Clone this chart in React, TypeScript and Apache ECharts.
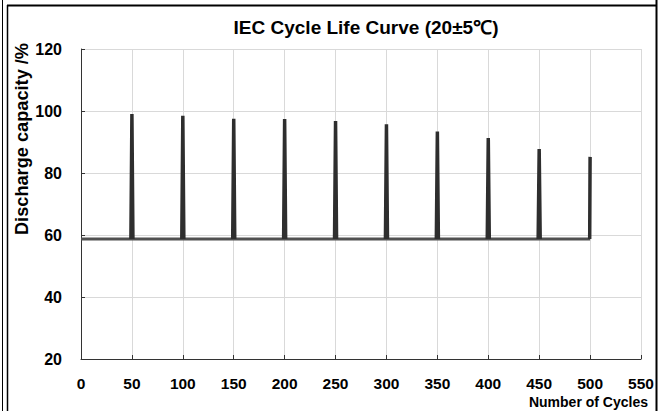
import React, { useEffect, useRef } from "react";
import * as echarts from "echarts";

const chartTitle = "IEC Cycle Life Curve (20±5℃)";
const xAxisName = "Number of Cycles";
const yAxisName = "Discharge capacity /%";

// full capacity check every 50 cycles
const spikeCycles = [50, 100, 150, 200, 250, 300, 350, 400, 450, 500];
const peakCapacity = [99.0, 98.5, 97.5, 97.4, 96.8, 95.7, 93.4, 91.3, 87.7, 85.2];
// regular cycling capacity (flat)
const baselineCapacity = 58.7;
const firstCycle = 0;
const lastCycle = 500;

const xTicks = { min: 0, max: 550, interval: 50 };
const yTicks = { min: 20, max: 120, interval: 20 };

const FONT = "'Liberation Sans', Arial, sans-serif";

export default function App() {
  const ref = useRef<HTMLDivElement>(null);

  useEffect(() => {
    if (!ref.current) return;
    const chart = echarts.init(ref.current, undefined, { renderer: "svg" });

    const baseline: [number, number][] = [
      [firstCycle, baselineCapacity],
      [lastCycle, baselineCapacity],
    ];
    const spikes: (number | string)[][] = [];
    spikeCycles.forEach((c, i) => {
      const last = i === spikeCycles.length - 1;
      spikes.push([c - (last ? 0.4 : 1), baselineCapacity]);
      spikes.push([c, peakCapacity[i]]);
      if (!last) spikes.push([c + 1, baselineCapacity]);
      spikes.push(["-", "-"]);
    });

    chart.setOption({
      animation: false,
      backgroundColor: "#ffffff",
      textStyle: { fontFamily: FONT },
      grid: { left: 81, top: 49, width: 560, height: 310, containLabel: false },
      xAxis: {
        type: "value",
        min: xTicks.min,
        max: xTicks.max,
        interval: xTicks.interval,
        axisLine: { show: true, lineStyle: { color: "#333", width: 1 } },
        axisTick: { show: true, inside: true, length: 4, lineStyle: { color: "#333" } },
        axisLabel: {
          color: "#000",
          fontWeight: "bold",
          fontSize: 15.5,
          fontFamily: FONT,
          margin: 16,
        },
        splitLine: { show: true, lineStyle: { color: "#d9d9d9", width: 1 } },
      },
      yAxis: {
        type: "value",
        min: yTicks.min,
        max: yTicks.max,
        interval: yTicks.interval,
        axisLine: { show: true, lineStyle: { color: "#333", width: 1 } },
        axisTick: { show: true, inside: true, length: 4, lineStyle: { color: "#333" } },
        axisLabel: {
          color: "#000",
          fontWeight: "bold",
          fontSize: 16,
          fontFamily: FONT,
          margin: 19,
        },
        splitLine: { show: true, lineStyle: { color: "#d9d9d9", width: 1 } },
      },
      series: [
        {
          type: "line",
          data: baseline,
          symbol: "none",
          lineStyle: { color: "#505050", width: 3 },
          z: 2,
        },
        {
          type: "line",
          data: spikes,
          symbol: "none",
          connectNulls: false,
          lineStyle: { color: "#2e2e2e", width: 3.5, join: "miter" },
          z: 3,
        },
      ],
      graphic: [
        {
          type: "text",
          x: 366,
          y: 27,
          style: {
            text: chartTitle,
            font: `bold 19px ${FONT}`,
            fill: "#000",
            align: "center",
            verticalAlign: "middle",
          },
        },
        {
          type: "text",
          x: 22,
          y: 139,
          rotation: Math.PI / 2,
          style: {
            text: yAxisName,
            font: `bold 18.2px ${FONT}`,
            fill: "#000",
            align: "center",
            verticalAlign: "middle",
          },
        },
        {
          type: "text",
          x: 648,
          y: 402,
          style: {
            text: xAxisName,
            font: `bold 14px ${FONT}`,
            fill: "#000",
            align: "right",
            verticalAlign: "middle",
          },
        },
        { type: "line", shape: { x1: 2.5, y1: 0, x2: 2.5, y2: 411 }, style: { stroke: "#000", lineWidth: 1 } },
        { type: "line", shape: { x1: 7.5, y1: 5, x2: 7.5, y2: 411 }, style: { stroke: "#000", lineWidth: 1.5 } },
        { type: "line", shape: { x1: 7, y1: 5.5, x2: 657, y2: 5.5 }, style: { stroke: "#000", lineWidth: 2 } },
        { type: "line", shape: { x1: 656.5, y1: 0, x2: 656.5, y2: 411 }, style: { stroke: "#000", lineWidth: 2 } },
      ],
    });

    return () => chart.dispose();
  }, []);

  return (
    <div
      ref={ref}
      style={{ position: "fixed", left: 0, top: 0, width: 665, height: 411, background: "#fff" }}
    />
  );
}
